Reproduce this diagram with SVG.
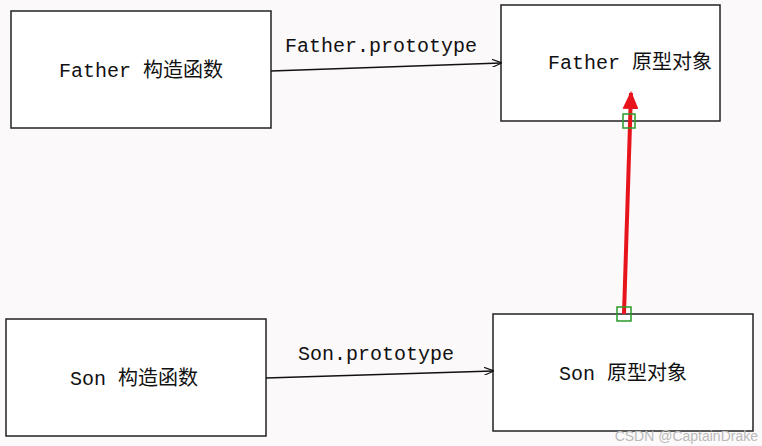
<svg xmlns="http://www.w3.org/2000/svg" width="762" height="446" viewBox="0 0 762 446">
<style>
.box{fill:#fff;stroke:#222;stroke-width:1.5}
.t{font-family:"Liberation Mono","Noto Sans CJK SC",monospace;font-size:20px;fill:#111;text-anchor:middle}
.c{stroke:#111;stroke-width:1.3;fill:none}
.g{fill:none;stroke:#2a9a2a;stroke-width:1.5}
</style>
<defs>
<marker id="a" markerWidth="10" markerHeight="8" refX="9" refY="4" orient="auto" markerUnits="userSpaceOnUse"><path d="M0,0L10,4L0,8" fill="none" stroke="#111" stroke-width="1.2"/></marker>
<marker id="r" markerWidth="18" markerHeight="16" refX="16" refY="8" orient="auto" markerUnits="userSpaceOnUse"><path d="M0,0L18,8L0,16Z" fill="#e8141c"/></marker>
</defs>
<rect width="762" height="446" fill="#fcf9fa"/>
<g id="father-ctor"><rect class="box" x="11" y="11" width="260" height="117"/><text class="t" x="141" y="77">Father 构造函数</text></g>
<g id="father-proto"><rect class="box" x="501" y="5" width="219" height="116"/><text class="t" x="630" y="69">Father 原型对象</text></g>
<g id="son-ctor"><rect class="box" x="6" y="319" width="260" height="117"/><text class="t" x="134" y="385">Son 构造函数</text></g>
<g id="son-proto"><rect class="box" x="493" y="314" width="260" height="117"/><text class="t" x="623" y="380">Son 原型对象</text></g>
<g id="connectors">
<path class="c" d="M271,71L501,63" marker-end="url(#a)"/>
<text class="t" x="381" y="52">Father.prototype</text>
<path class="c" d="M266,378L493,371" marker-end="url(#a)"/>
<text class="t" x="376" y="360">Son.prototype</text>
<path d="M624,314L631,93" stroke="#e8141c" stroke-width="4" fill="none" marker-end="url(#r)"/>
<rect class="g" x="623" y="114" width="12" height="14"/>
<rect class="g" x="617" y="307" width="14" height="14"/>
</g>
<text x="758" y="441" text-anchor="end" font-family="Liberation Sans,sans-serif" font-size="14" fill="#bbb">CSDN @CaptainDrake</text>
</svg>
